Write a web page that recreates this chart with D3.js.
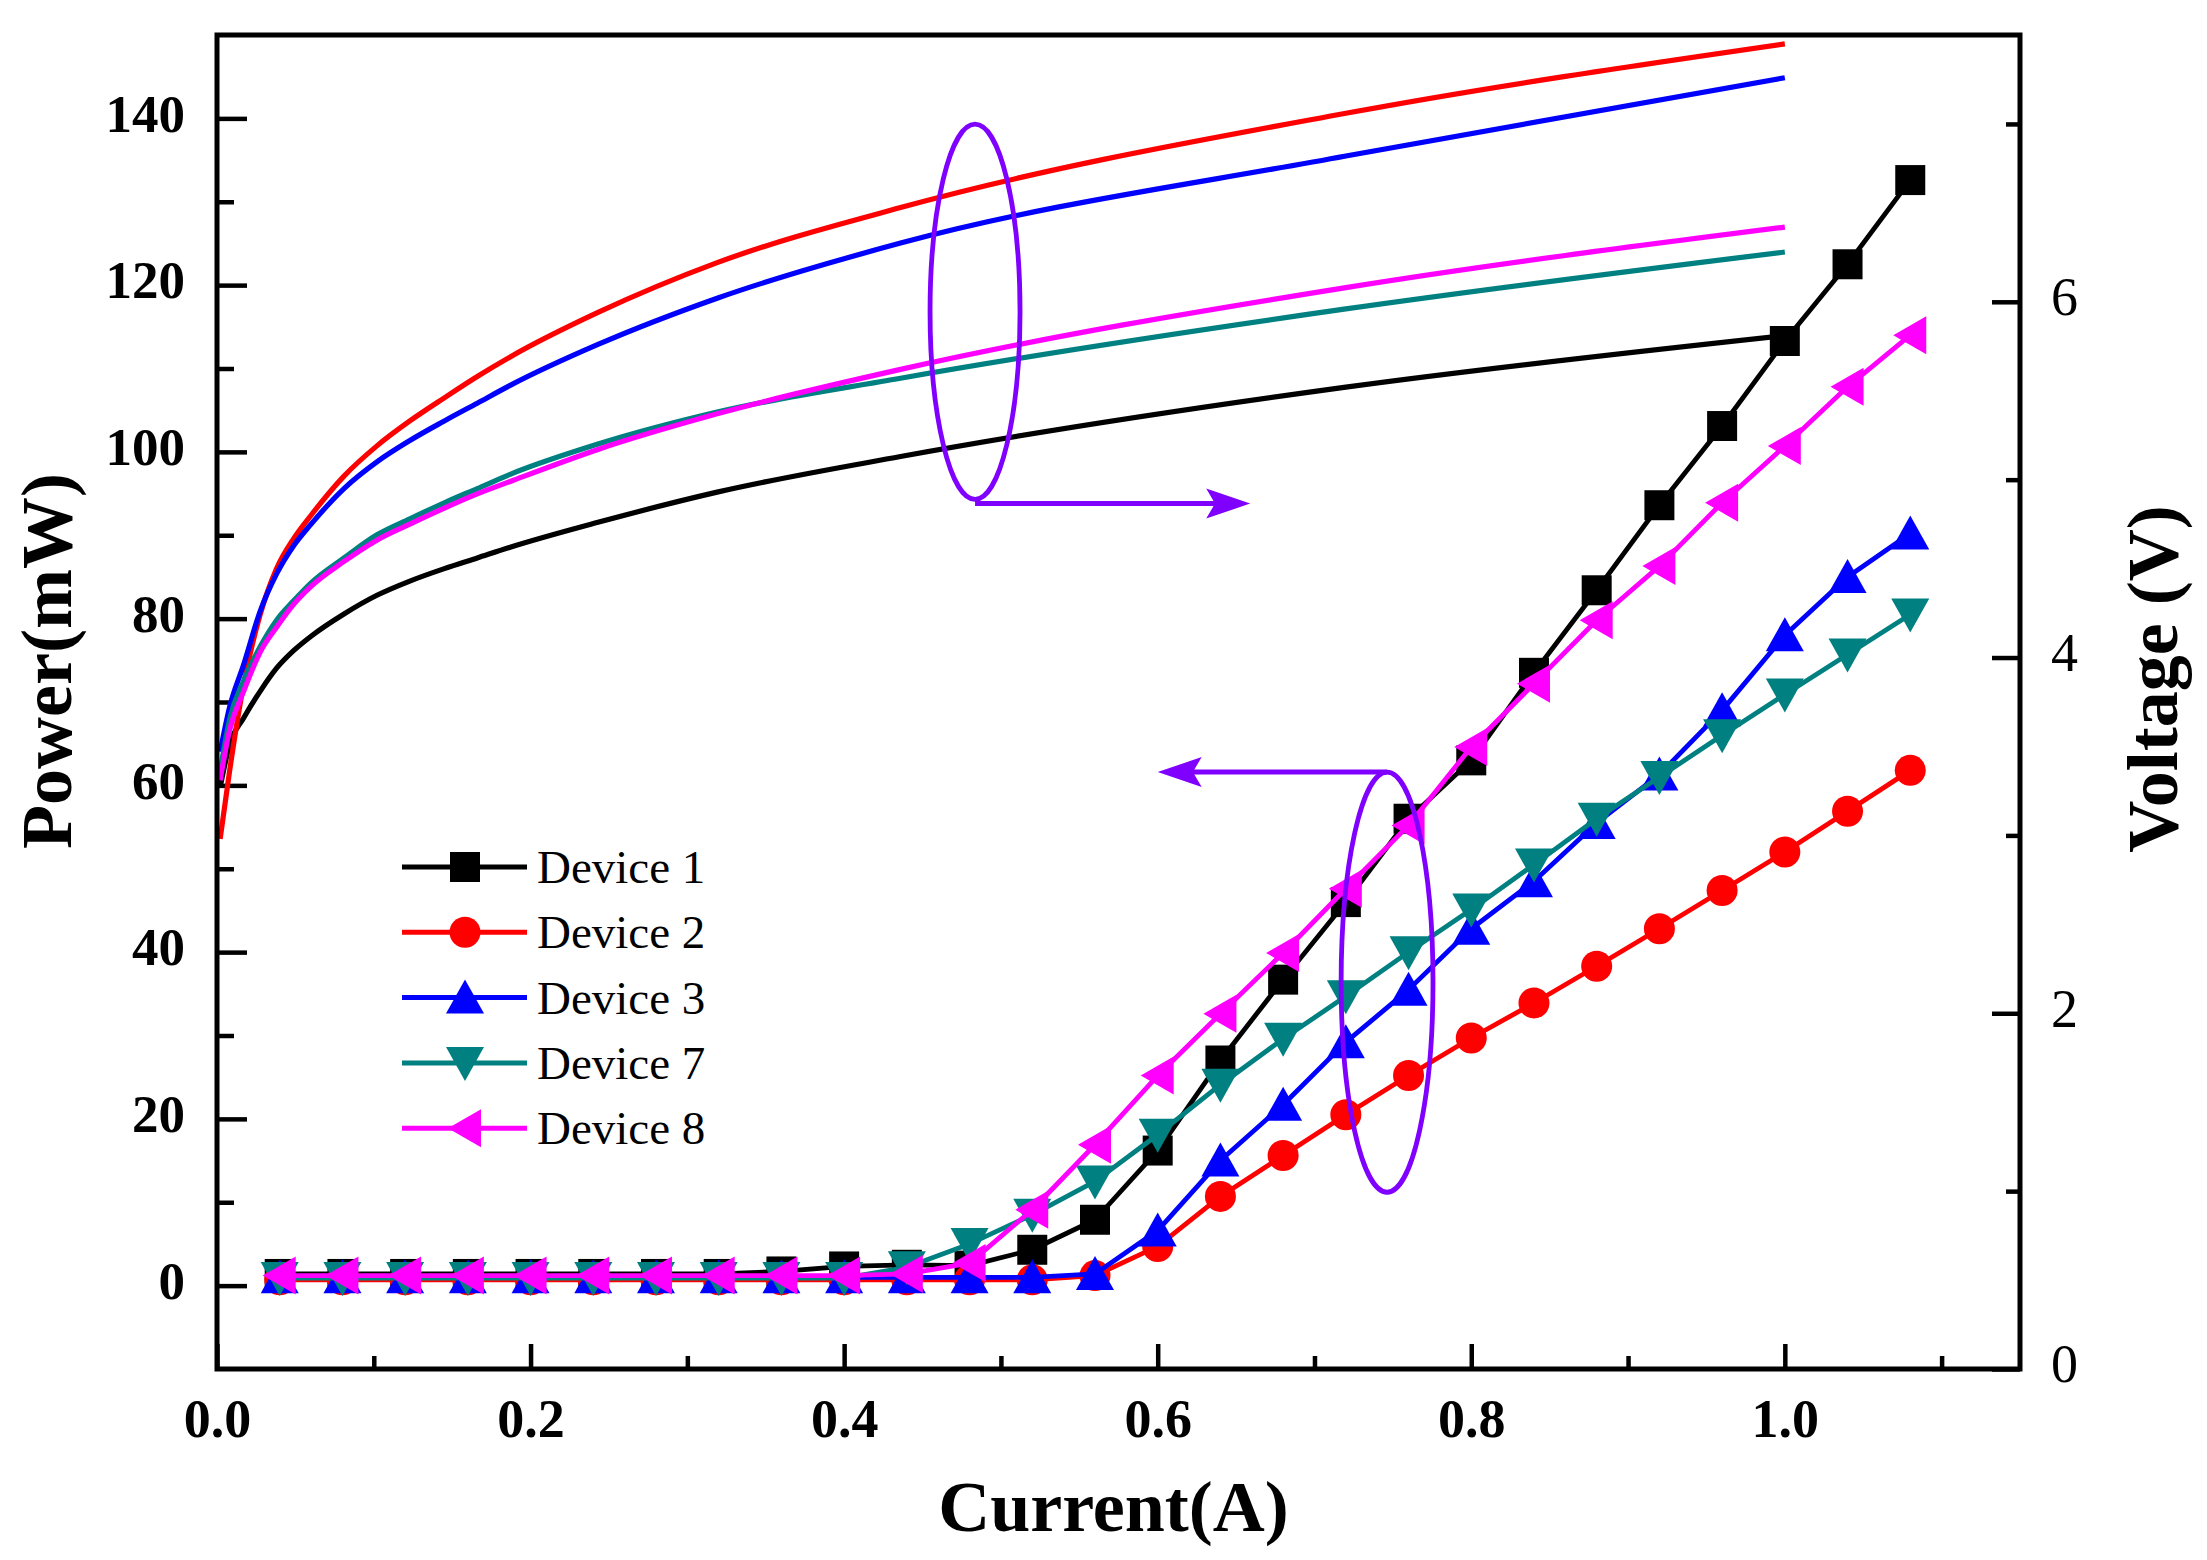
<!DOCTYPE html>
<html>
<head>
<meta charset="utf-8">
<script src="https://cdn.jsdelivr.net/npm/d3@7/dist/d3.min.js"></script>
<style>
  html, body { margin: 0; padding: 0; background: #ffffff; }
  svg { display: block; }
  text { font-family: "Liberation Serif", "Times New Roman", Times, serif; fill: #000; }
</style>
</head>
<body>
<script>
// ---------------- DATA ----------------
const seriesNames = ["Device 1", "Device 2", "Device 3", "Device 7", "Device 8"];
const seriesColors = ["#000000", "#ff0000", "#0000ff", "#008080", "#ff00ff"];
const seriesSymbols = ["square", "circle", "triangleUp", "triangleDown", "triangleLeft"];

// Power (left axis) sampled currents
const powerCurrent = [0.04,0.08,0.12,0.16,0.20,0.24,0.28,0.32,0.36,0.40,0.44,0.48,0.52,0.56,0.60,0.64,0.68,0.72,0.76,0.80,0.84,0.88,0.92,0.96,1.00,1.04,1.08];
const powerDevice1 = [1.4,1.4,1.4,1.4,1.4,1.4,1.4,1.4,1.7,2.3,2.5,2.4,4.3,7.9,16.2,27,36.7,46,56,63,73.5,83.4,93.6,103.1,113.3,122.5,132.6];
const powerDevice2 = [0.7,0.7,0.7,0.7,0.7,0.7,0.7,0.7,0.7,0.7,0.7,0.7,0.7,1.2,4.7,10.7,15.6,20.5,25.2,29.7,33.9,38.3,42.8,47.4,52,56.9,61.8];
const powerDevice3 = [1.0,1.0,1.0,1.0,1.0,1.0,1.0,1.0,1.0,1.0,1.0,1.0,1.0,1.4,6.6,15,21.7,29.2,35.5,42.8,48.5,55.5,61.3,69,78,85,90.2];
const powerDevice7 = [0.9,0.9,0.9,0.9,0.9,0.9,0.9,0.9,0.9,0.9,2.2,5.0,8.5,12.5,18.1,24.1,29.6,34.7,40,45.1,50.5,56,61,66,70.9,75.7,80.5];
const powerDevice8 = [1.2,1.2,1.2,1.2,1.2,1.2,1.2,1.2,1.2,1.2,1.4,2.7,9.1,16.9,25.2,32.6,39.9,47.6,55.2,64.6,72.2,79.8,86.3,93.9,100.7,107.8,114];

// Voltage (right axis) sampled currents
const voltCurrent = [0.002,0.008,0.017,0.0275,0.038,0.049,0.06,0.081,0.102,0.123,0.145,0.166,0.187,0.243,0.319,0.436,0.72,1.0];
const voltDevice1 = [3.27,3.51,3.66,3.81,3.94,4.04,4.12,4.245,4.35,4.43,4.50,4.56,4.62,4.76,4.93,5.13,5.52,5.81];
const voltDevice2 = [2.98,3.36,3.85,4.24,4.50,4.67,4.80,5.02,5.19,5.33,5.46,5.58,5.69,5.94,6.22,6.53,7.06,7.45];
const voltDevice3 = [3.47,3.72,3.96,4.26,4.47,4.63,4.75,4.95,5.10,5.22,5.33,5.43,5.53,5.76,6.02,6.33,6.82,7.26];
const voltDevice7 = [3.36,3.65,3.87,4.06,4.21,4.32,4.42,4.56,4.69,4.78,4.87,4.95,5.03,5.20,5.38,5.57,5.96,6.28];
const voltDevice8 = [3.31,3.59,3.81,4.03,4.17,4.30,4.40,4.54,4.66,4.75,4.84,4.92,4.99,5.17,5.37,5.62,6.08,6.42];

// Axis ticks
const xTickValues = [0.0,0.2,0.4,0.6,0.8,1.0];
const xMinorTicks = [0.1,0.3,0.5,0.7,0.9,1.1];
const yLeftTickValues = [0,20,40,60,80,100,120,140];
const yLeftMinorTicks = [10,30,50,70,90,110,130];
const yRightTickValues = [0,2,4,6];
const yRightMinorTicks = [1,3,5,7];

const xTitle = "Current(A)";
const yLeftTitle = "Power(mW)";
const yRightTitle = "Voltage (V)";

// Annotation ellipses (data coords: current, power) and arrow targets
const annotEllipses = [
  {cx: 0.4835, cy: 116.8, rx: 0.0287, ry: 22.5, ax0: 0.4835, ay: 93.8, ax1: 0.659},   // voltage group -> right axis
  {cx: 0.7463, cy: 36.4,  rx: 0.0293, ry: 25.2, ax0: 0.7463, ay: 61.6, ax1: 0.600}    // power group -> left axis
];

// ---------------- LAYOUT ----------------
const W = 2207, H = 1560;
const M = {left: 217, right: 2020, top: 35, bottom: 1369};
const FONT = '"Liberation Serif", "Times New Roman", Times, serif';

const svg = d3.select("body").append("svg").attr("width", W).attr("height", H);
svg.append("rect").attr("width", W).attr("height", H).attr("fill", "#fff");

const x = d3.scaleLinear().domain([0, 1.15]).range([M.left, M.right]);
const yL = d3.scaleLinear().domain([-10, 150]).range([M.bottom, M.top]);
const yR = d3.scaleLinear().domain([0, 7.5]).range([M.bottom, M.top]);

const powerSeries = [powerDevice1, powerDevice2, powerDevice3, powerDevice7, powerDevice8];
const voltSeries = [voltDevice1, voltDevice2, voltDevice3, voltDevice7, voltDevice8];

// ---------------- AXES ----------------
const axisStroke = 4.5;
function styleAxis(g) {
  g.select(".domain").remove();
  g.selectAll(".tick line").attr("stroke", "#000").attr("stroke-width", axisStroke);
}

// bottom major
svg.append("g").attr("transform", `translate(0,${M.bottom})`)
  .call(d3.axisBottom(x).tickValues(xTickValues).tickSize(-25).tickPadding(30).tickFormat(d3.format(".1f")))
  .call(styleAxis)
  .call(g => g.selectAll("text").attr("font-family", FONT).attr("font-size", 54).attr("font-weight", "bold").attr("fill", "#000"));
// bottom minor
svg.append("g").attr("transform", `translate(0,${M.bottom})`)
  .call(d3.axisBottom(x).tickValues(xMinorTicks).tickSize(-13).tickFormat(""))
  .call(styleAxis);

// left major
svg.append("g").attr("transform", `translate(${M.left},0)`)
  .call(d3.axisLeft(yL).tickValues(yLeftTickValues).tickSize(-30).tickPadding(32).tickFormat(d3.format("d")))
  .call(styleAxis)
  .call(g => g.selectAll("text").attr("font-family", FONT).attr("font-size", 53).attr("font-weight", "bold").attr("dy", "0.24em").attr("fill", "#000"));
// left minor
svg.append("g").attr("transform", `translate(${M.left},0)`)
  .call(d3.axisLeft(yL).tickValues(yLeftMinorTicks).tickSize(-17).tickFormat(""))
  .call(styleAxis);

// right major
svg.append("g").attr("transform", `translate(${M.right},0)`)
  .call(d3.axisRight(yR).tickValues(yRightTickValues).tickSize(-28).tickPadding(31).tickFormat(d3.format("d")))
  .call(styleAxis)
  .call(g => g.selectAll("text").attr("font-family", FONT).attr("font-size", 54).attr("font-weight", "normal").attr("dy", "0.24em").attr("fill", "#000"));
// right minor
svg.append("g").attr("transform", `translate(${M.right},0)`)
  .call(d3.axisRight(yR).tickValues(yRightMinorTicks).tickSize(-14).tickFormat(""))
  .call(styleAxis);

// ---------------- VOLTAGE CURVES ----------------
svg.append("clipPath").attr("id", "plotclip").append("rect")
  .attr("x", M.left).attr("y", M.top).attr("width", M.right - M.left).attr("height", M.bottom - M.top);

const vLine = d3.line().x(d => x(d[0])).y(d => yR(d[1])).curve(d3.curveMonotoneX);
const vg = svg.append("g").attr("clip-path", "url(#plotclip)");
voltSeries.forEach((vs, i) => {
  vg.append("path")
    .attr("d", vLine(voltCurrent.map((c, j) => [c, vs[j]])))
    .attr("fill", "none").attr("stroke", seriesColors[i]).attr("stroke-width", 5.2)
    .attr("stroke-linejoin", "round");
});

// ---------------- POWER CURVES ----------------
function symbolPath(type) {
  switch (type) {
    case "square": return "M-15,-15H15V15H-15Z";
    case "circle": return "M-15.5,0A15.5,15.5 0 1,0 15.5,0A15.5,15.5 0 1,0 -15.5,0Z";
    case "triangleUp": return "M0,-18L19,16H-19Z";
    case "triangleDown": return "M0,18L19,-16H-19Z";
    case "triangleLeft": return "M-17,0L16,-19V19Z";
  }
}
const pLine = d3.line().x(d => x(d[0])).y(d => yL(d[1]));
powerSeries.forEach((ps, i) => {
  const pts = powerCurrent.map((c, j) => [c, ps[j]]);
  const g = svg.append("g");
  g.append("path").attr("d", pLine(pts)).attr("fill", "none")
    .attr("stroke", seriesColors[i]).attr("stroke-width", 4.8).attr("stroke-linejoin", "round");
  g.selectAll("path.sym").data(pts).join("path").attr("class", "sym")
    .attr("d", symbolPath(seriesSymbols[i]))
    .attr("transform", d => `translate(${x(d[0])},${yL(d[1])})`)
    .attr("fill", seriesColors[i]);
});

// ---------------- FRAME ----------------
svg.append("rect").attr("x", M.left).attr("y", M.top)
  .attr("width", M.right - M.left).attr("height", M.bottom - M.top)
  .attr("fill", "none").attr("stroke", "#000").attr("stroke-width", 5);

// ---------------- ANNOTATIONS ----------------
const purple = "#8000ff";
annotEllipses.forEach(a => {
  svg.append("ellipse")
    .attr("cx", x(a.cx)).attr("cy", yL(a.cy))
    .attr("rx", x(a.rx) - x(0)).attr("ry", yL(0) - yL(a.ry))
    .attr("fill", "none").attr("stroke", purple).attr("stroke-width", 4.8);
  const x0 = x(a.ax0), x1 = x(a.ax1), yy = yL(a.ay);
  const dir = Math.sign(x1 - x0);
  const headLen = 44, headHalf = 15;
  svg.append("line").attr("x1", x0).attr("y1", yy).attr("x2", x1 - dir * headLen * 0.7).attr("y2", yy)
    .attr("stroke", purple).attr("stroke-width", 5);
  svg.append("path")
    .attr("d", `M${x1},${yy}L${x1 - dir * headLen},${yy - headHalf}L${x1 - dir * headLen * 0.8},${yy}L${x1 - dir * headLen},${yy + headHalf}Z`)
    .attr("fill", purple);
});

// ---------------- LEGEND ----------------
const legendX0 = 402, legendX1 = 527, legendMarkX = 465, legendTextX = 537;
const legendY0 = 867, legendDY = 65.3;
seriesNames.forEach((name, i) => {
  const yy = legendY0 + i * legendDY;
  const g = svg.append("g");
  g.append("line").attr("x1", legendX0).attr("x2", legendX1).attr("y1", yy).attr("y2", yy)
    .attr("stroke", seriesColors[i]).attr("stroke-width", 5);
  g.append("path").attr("d", symbolPath(seriesSymbols[i]))
    .attr("transform", `translate(${legendMarkX},${yy})`).attr("fill", seriesColors[i]);
  g.append("text").attr("x", legendTextX).attr("y", yy + 16)
    .attr("font-family", FONT).attr("font-size", 47).text(name);
});

// ---------------- TITLES ----------------
svg.append("text").attr("x", (M.left + M.right) / 2 - 5).attr("y", 1531)
  .attr("text-anchor", "middle").attr("font-family", FONT).attr("font-size", 72).attr("font-weight", "bold")
  .text(xTitle);
svg.append("text").attr("transform", "translate(71,661) rotate(-90)")
  .attr("text-anchor", "middle").attr("font-family", FONT).attr("font-size", 72).attr("font-weight", "bold")
  .text(yLeftTitle);
svg.append("text").attr("transform", "translate(2177,679) rotate(-90)")
  .attr("text-anchor", "middle").attr("font-family", FONT).attr("font-size", 72).attr("font-weight", "bold")
  .text(yRightTitle);
</script>
</body>
</html>
